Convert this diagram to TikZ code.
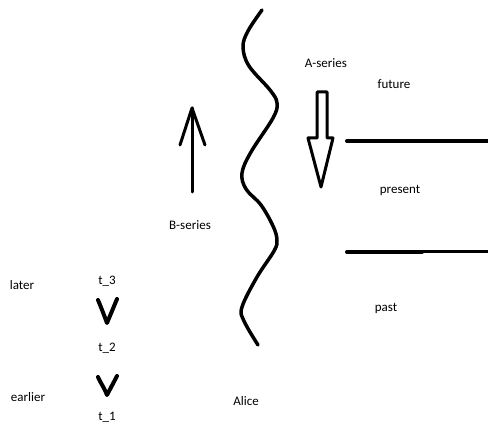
\documentclass[tikz,border=0pt]{standalone}
\usepackage{fontspec}
\setmainfont{Carlito}
\begin{document}
\begin{tikzpicture}[x=1pt,y=-1pt,line cap=round,line join=round,
		lbl/.style={font=\fontsize{13}{15}\selectfont,inner sep=0pt},
		thick line/.style={line width=4pt},
		vmark/.style={line width=4pt}]
		\useasboundingbox (0,0) rectangle (488,425);
		% Alice's world line
		\draw[line width=3.5pt] plot[smooth,tension=0.6] coordinates {
			(262,10) (248,31) (243,47) (249,66) (270,90) (277,103) (273,118)
			(251,152) (242,173) (246,189) (261,205) (273,226) (277,240)
			(274,251) (257,277) (242,307) (244,321) (258,345)};
		\node[lbl] (alice) at (246,401) {Alice};
		% B-series
		\draw[line width=3pt] (192,192) -- (192,108);
		\draw[line width=3pt] (180,145) -- (192,108) -- (205,145);
		\node[lbl] (bseries) at (190,225) {B-series};
		% A-series
		\node[lbl] (aseries) at (326,63) {A-series};
		\draw[line width=3pt] (317,92) -- (327,92) -- (327,138) -- (333,138)
			-- (321,187) -- (308,138) -- (317,138) -- cycle;
		\draw[thick line] (347,141) -- (488,141);
		\draw[thick line] (347,252) -- (422,252);
		\draw[line width=3pt] (422,252) -- (488,252);
		\node[lbl] (future) at (394,84) {future};
		\node[lbl] (present) at (400,190) {present};
		\node[lbl] (past) at (386,308) {past};
		% earlier / later
		\node[lbl] (later) at (22,285) {later};
		\node[lbl] (earlier) at (28,397) {earlier};
		\foreach \t/\ty in {3/281,2/348,1/417}{
			\node[lbl] (t\t) at (107,\ty) {t\_\t};
		}
		\foreach \vt/\vb in {299/323,376/395}{
			\draw[vmark] (98,\vt+1) .. controls (101,\vt+8) and (104,\vb-8) .. (107,\vb) -- (117,\vt);
		}
	\end{tikzpicture}
\end{document}
